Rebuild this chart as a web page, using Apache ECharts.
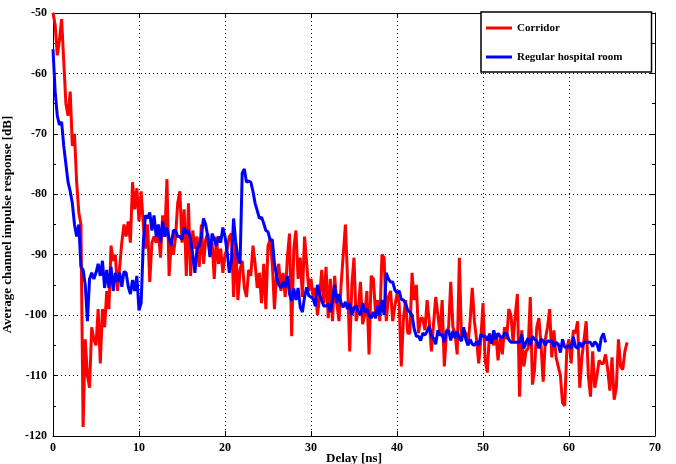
<!DOCTYPE html>
<html>
<head>
<meta charset="utf-8">
<script src="https://cdn.jsdelivr.net/npm/echarts@6/dist/echarts.min.js"></script>
<style>
  html, body { margin: 0; padding: 0; background: #fff; }
  #chart { width: 676px; height: 464px; }
</style>
</head>
<body>
<div id="chart"></div>
<script>
// sample spacing of both measured profiles (ns)
const delayStep = 0.25;

// Corridor, dB, from 0 ns every 0.25 ns
const corridor = [
  -50, -52, -57, -54.5, -51, -58, -65, -67,
  -63, -72, -70, -78, -83, -85, -118.5, -104,
  -110, -112, -102, -104, -105, -99, -108, -99,
  -102, -96, -99, -88.5, -91, -90, -96, -92,
  -88, -85, -87, -84.5, -88, -78, -82.5, -79,
  -84.5, -79.5, -85, -89, -85, -94.5, -88, -87,
  -88, -86, -90.5, -83.5, -87, -77.5, -93.5, -88,
  -90, -87, -81.5, -79.5, -88, -82.5, -93.5, -81.5,
  -93.5, -86, -89, -87, -92, -85, -91.5, -87.5,
  -86.5, -90, -88, -94, -87, -91.5, -89, -93,
  -90, -89, -87, -86.5, -97, -88, -97.5, -92.5,
  -91, -95.5, -97, -92.5, -93.5, -88.5, -91.5, -95.5,
  -93, -98, -91.5, -99, -88.5, -87.5, -91.5, -99,
  -93, -91.5, -96, -93, -97, -90.5, -86.5, -103.5,
  -89, -86, -94, -90.5, -97, -87, -91.5, -96,
  -94, -97, -95.5, -100, -97, -92.5, -98, -92,
  -100.5, -94, -101, -93.5, -98, -101, -95, -90,
  -85, -94, -106, -95, -90.5, -101, -99, -94.5,
  -101.5, -100, -96, -106.5, -93.5, -94, -99.5, -97.5,
  -101, -90, -90.5, -101, -97, -96, -101, -98.5,
  -96.5, -98, -108.5, -100.5, -97.5, -103, -103, -93,
  -97.5, -95, -103, -100.5, -100.5, -102.5, -97.5, -101,
  -106, -101.5, -97, -100, -103, -97.5, -108.5, -103,
  -102, -94.5, -102, -103, -106.5, -90.5, -104, -102.5,
  -103, -105, -101, -95.5, -101, -104, -108, -104,
  -98, -107.5, -109.5, -103, -104, -105, -103, -107.5,
  -103.5, -106.5, -102, -104, -99, -100, -104.5, -100,
  -96.5, -113.5, -102.5, -108.5, -106, -105.5, -97, -111.5,
  -109, -102, -100.5, -105, -111, -104, -102, -99,
  -107, -102.5, -107, -108.5, -110, -114.5, -115, -105.5,
  -104, -108, -102.5, -103, -101, -112, -107, -104,
  -101, -110, -113.5, -106, -112, -110, -107.5, -108,
  -108, -106.5, -109, -112.5, -107, -114, -112, -104,
  -108.5, -109, -106, -104.5
];

// Regular hospital room, dB, from 0 ns every 0.25 ns
const hospitalRoom = [
  -56, -63, -67, -68.5, -68, -72, -75, -78,
  -79.5, -81.5, -85, -87, -85, -92, -92.5, -95,
  -101, -94, -93, -94, -93, -91.5, -93.5, -91,
  -95.5, -92.5, -95.5, -92, -96, -93, -94.5, -93,
  -95.3, -92.8, -93, -95.3, -96.5, -94.2, -96, -93.5,
  -99.2, -98, -88, -83.5, -84, -83, -86, -83.5,
  -87, -85, -88, -84.5, -87, -85.5, -87.3, -88.5,
  -86, -86, -87, -87, -87.5, -85.5, -86.5, -86,
  -87.5, -90, -93, -89, -88.5, -87, -84, -85,
  -87, -90.4, -86.5, -87.5, -88.5, -87, -88, -85.5,
  -87, -89.5, -93, -91, -84, -88, -90.5, -91.5,
  -76.5, -75.8, -78, -77.8, -78, -79.5, -81.5, -82.7,
  -84, -83.8, -84.8, -86, -86.2, -87.6, -87.5, -91.5,
  -93.5, -95, -95.5, -94.5, -95.4, -93.5, -96.5, -97.6,
  -95.6, -97.5, -95.5, -98.7, -99.5, -97, -95.4, -96.8,
  -97, -97.3, -98.5, -95, -96.5, -97.6, -98.5, -98.5,
  -98.1, -99.5, -97.5, -95, -98, -96.5, -98, -98.7,
  -97.8, -99, -98, -100, -98.7, -98.5, -99.5, -100,
  -98, -99.5, -99, -100, -100.5, -99.5, -100.5, -98.5,
  -100, -97.5, -100, -93, -94, -94.5, -94.5, -95.8,
  -96.3, -96, -97.4, -97.5, -98.1, -99.2, -99.5, -100,
  -102.3, -103.5, -103.5, -104.2, -103, -103.3, -102.7, -101.8,
  -103.5, -103.8, -104.8, -102.5, -103.3, -103.2, -104.5, -102.6,
  -102.5, -104.2, -102.6, -103.8, -102.7, -103.8, -104.3, -102,
  -104, -105, -104, -104.8, -105, -104.4, -105, -103.2,
  -103.5, -103.5, -104.2, -103.2, -104.7, -102.5, -104, -103,
  -103.5, -103.8, -103, -103, -104, -104.5, -104.5, -104.5,
  -104.5, -104.5, -103.2, -105.5, -104.5, -103.8, -105, -103.5,
  -104, -104.2, -105.5, -104, -104.2, -105, -104.2, -104.4,
  -104.2, -105.2, -104.5, -104.8, -106.2, -104, -105.3, -105.3,
  -105, -105.5, -103.6, -105.2, -105.5, -104.5, -105.3, -104.5,
  -104.5, -104.5, -104.5, -105.2, -104.4, -104.8, -106, -103.8,
  -103, -104.5
];

const seriesNames = ['Corridor', 'Regular hospital room'];
const seriesColors = ['#ff0000', '#0000ff'];

const toPairs = arr => arr.map((v, i) => [i * delayStep, v]);

const fontFamily = 'Liberation Serif';
const txt = { fontFamily: fontFamily, fontWeight: 'bold', fontSize: 12, color: '#000' };
const nameTxt = { fontFamily: fontFamily, fontWeight: 'bold', fontSize: 13, color: '#000' };
const gridDots = { show: true, lineStyle: { color: '#000', width: 1, type: [1, 3] } };

let myChart = echarts.init(document.getElementById('chart'), null, { renderer: 'canvas' });

myChart.setOption({
    animation: false,
    backgroundColor: '#fff',
    grid: { left: 53, right: 21, top: 13, bottom: 28, containLabel: false, outerBoundsMode: 'none' },
    legend: {
        orient: 'vertical',
        left: 481,
        top: 12,
        data: seriesNames,
        icon: 'rect',
        itemWidth: 26,
        itemHeight: 3,
        itemGap: 15,
        padding: [9, 29, 8, 5],
        backgroundColor: '#fff',
        borderColor: '#000',
        borderWidth: 1.5,
        textStyle: { fontFamily: fontFamily, fontWeight: 'bold', fontSize: 11, color: '#000', lineHeight: 14 }
    },
    xAxis: [
        {
            type: 'value', min: 0, max: 70, interval: 10,
            name: 'Delay [ns]', nameLocation: 'middle', nameGap: 16, nameMoveOverlap: false,
            nameTextStyle: nameTxt,
            axisLine: { onZero: false, lineStyle: { color: '#000', width: 1 } },
            axisTick: { inside: true, length: 5, lineStyle: { color: '#000' } },
            axisLabel: Object.assign({ margin: 6 }, txt),
            splitLine: gridDots
        },
        {
            type: 'value', position: 'top', min: 0, max: 70, interval: 10,
            axisLine: { show: true, onZero: false, lineStyle: { color: '#000', width: 1 } },
            axisTick: { show: true, inside: true, length: 5, lineStyle: { color: '#000' } },
            axisLabel: { show: false },
            splitLine: { show: false }
        }
    ],
    yAxis: [
        {
            type: 'value', min: -120, max: -50, interval: 10,
            name: 'Average channel impulse response [dB]', nameLocation: 'middle', nameGap: 39,
            nameMoveOverlap: false, nameTextStyle: nameTxt,
            axisLine: { show: true, onZero: false, lineStyle: { color: '#000', width: 1 } },
            axisTick: { show: true, inside: true, length: 5, lineStyle: { color: '#000' } },
            minorTick: { show: true, splitNumber: 2, length: 3, lineStyle: { color: '#000' } },
            axisLabel: Object.assign({ margin: 6 }, txt),
            splitLine: gridDots
        },
        {
            type: 'value', position: 'right', min: -120, max: -50, interval: 10,
            axisLine: { show: true, onZero: false, lineStyle: { color: '#000', width: 1 } },
            axisTick: { show: true, inside: true, length: 5, lineStyle: { color: '#000' } },
            minorTick: { show: true, splitNumber: 2, length: 3, lineStyle: { color: '#000' } },
            axisLabel: { show: false },
            splitLine: { show: false }
        }
    ],
    series: [
        {
            name: seriesNames[0], type: 'line', xAxisIndex: 0, yAxisIndex: 0,
            data: toPairs(corridor), showSymbol: false, symbol: 'none',
            color: seriesColors[0],
            lineStyle: { color: seriesColors[0], width: 3 }
        },
        {
            name: seriesNames[1], type: 'line', xAxisIndex: 0, yAxisIndex: 0,
            data: toPairs(hospitalRoom), showSymbol: false, symbol: 'none',
            color: seriesColors[1],
            lineStyle: { color: seriesColors[1], width: 3 }
        }
    ]
});
</script>
</body>
</html>
